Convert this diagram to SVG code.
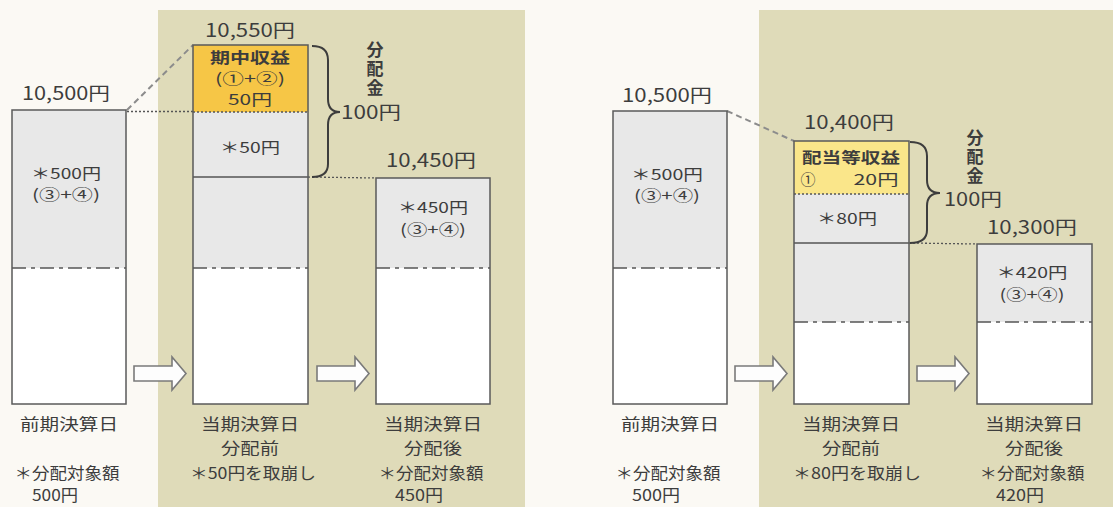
<svg xmlns="http://www.w3.org/2000/svg" width="1113" height="507" viewBox="0 0 1113 507">
<style>
.t{font-family:"Noto Sans CJK JP","Noto Sans",sans-serif;fill:#3d3d3d;text-anchor:middle}
.num{font-size:18.5px}
.bx{font-size:15px}
.lb{font-size:16px}
.b{font-weight:700}
.vt{font-family:"Noto Sans CJK JP","Noto Sans",sans-serif;fill:#3d3d3d;font-size:17px;font-weight:700;writing-mode:vertical-rl;text-anchor:start;letter-spacing:2px}
.frame{fill:none;stroke:#5a5a5a;stroke-width:1.5}
.dd{stroke:#555;stroke-width:1.5;stroke-dasharray:14 5 4 5}
.dot{stroke:#555;stroke-width:1.3;stroke-dasharray:2 2;fill:none}
.sol{stroke:#555;stroke-width:1.5}
.diag{stroke:#8c8c8c;stroke-width:2;stroke-dasharray:6 4;fill:none}
.brace{fill:none;stroke:#3d3d3d;stroke-width:2}
.arrow{fill:#fdfdfd;stroke:#7a7a7a;stroke-width:1.6;stroke-linejoin:miter}
.gray{fill:#e8e8e8}
.white{fill:#ffffff}
</style>
<rect x="0" y="0" width="1113" height="507" fill="#fbf9f4"/>
<rect x="158" y="10" width="367" height="497" fill="#dfdbb9"/>
<rect x="759" y="10" width="354" height="497" fill="#dfdbb9"/>

<g id="connectors">
<path class="diag" d="M127,110 L193,45"/>
<path class="dot" d="M127,111.5 L193,111.5"/>
<path class="dot" d="M308,177 L376,178"/>
<path class="diag" d="M727,111 L794,141"/>
<path class="dot" d="M909,243 L977,244"/>
<polygon class="arrow" points="134,366 172,366 172,357 186,373.5 172,390 172,381 134,381"/>
<polygon class="arrow" points="317,366 355,366 355,357 369,373.5 355,390 355,381 317,381"/>
<polygon class="arrow" points="735,366 773,366 773,357 787,373.5 773,390 773,381 735,381"/>
<polygon class="arrow" points="917,366 955,366 955,357 969,373.5 955,390 955,381 917,381"/>
</g>

<g id="boxA">
<rect class="gray" x="12" y="110" width="114" height="158"/>
<rect class="white" x="12" y="268" width="114" height="136"/>
<line class="dd" x1="12" y1="268" x2="126" y2="268"/>
<rect class="frame" x="12" y="110" width="114" height="294"/>
<text class="t num" x="66" y="100" textLength="88" lengthAdjust="spacingAndGlyphs">10,500円</text>
<text class="t bx"><tspan x="66" y="179" textLength="70" lengthAdjust="spacingAndGlyphs">＊500円</tspan><tspan x="66" y="200" textLength="68" lengthAdjust="spacingAndGlyphs">(③+④)</tspan></text>
<text class="t lb" x="69" y="430" textLength="98" lengthAdjust="spacingAndGlyphs">前期決算日</text>
<text class="t lb"><tspan x="67" y="479" textLength="105" lengthAdjust="spacingAndGlyphs">＊分配対象額</tspan><tspan x="55" y="501" textLength="46" lengthAdjust="spacingAndGlyphs">500円</tspan></text>
</g>

<g id="boxB">
<rect x="193" y="45" width="115" height="67" fill="#f6c646"/>
<rect class="gray" x="193" y="112" width="115" height="156"/>
<rect class="white" x="193" y="268" width="115" height="136"/>
<line class="dot" x1="193" y1="112" x2="308" y2="112"/>
<line class="sol" x1="193" y1="177" x2="308" y2="177"/>
<line class="dd" x1="193" y1="268" x2="308" y2="268"/>
<rect class="frame" x="193" y="45" width="115" height="359"/>
<text class="t num" x="250" y="37" textLength="90" lengthAdjust="spacingAndGlyphs">10,550円</text>
<text class="t bx"><tspan class="b" x="250" y="63" textLength="80" lengthAdjust="spacingAndGlyphs">期中収益</tspan><tspan x="250" y="84" textLength="70" lengthAdjust="spacingAndGlyphs">(①+②)</tspan><tspan x="250" y="105" textLength="44" lengthAdjust="spacingAndGlyphs">50円</tspan></text>
<text class="t bx" x="250" y="153" textLength="60" lengthAdjust="spacingAndGlyphs">＊50円</text>
<text class="t lb"><tspan x="250" y="430" textLength="98" lengthAdjust="spacingAndGlyphs">当期決算日</tspan><tspan x="250" y="454" textLength="58" lengthAdjust="spacingAndGlyphs">分配前</tspan><tspan x="253" y="479" textLength="126" lengthAdjust="spacingAndGlyphs">＊50円を取崩し</tspan></text>
</g>

<g id="boxC">
<rect class="gray" x="376" y="178" width="114" height="90"/>
<rect class="white" x="376" y="268" width="114" height="136"/>
<line class="dd" x1="376" y1="268" x2="490" y2="268"/>
<rect class="frame" x="376" y="178" width="114" height="226"/>
<text class="t num" x="431" y="167" textLength="90" lengthAdjust="spacingAndGlyphs">10,450円</text>
<text class="t bx"><tspan x="433" y="213" textLength="70" lengthAdjust="spacingAndGlyphs">＊450円</tspan><tspan x="433" y="235" textLength="66" lengthAdjust="spacingAndGlyphs">(③+④)</tspan></text>
<text class="t lb"><tspan x="433" y="430" textLength="98" lengthAdjust="spacingAndGlyphs">当期決算日</tspan><tspan x="433" y="454" textLength="58" lengthAdjust="spacingAndGlyphs">分配後</tspan><tspan x="431" y="479" textLength="105" lengthAdjust="spacingAndGlyphs">＊分配対象額</tspan><tspan x="419" y="501" textLength="48" lengthAdjust="spacingAndGlyphs">450円</tspan></text>
</g>

<g id="braceLeft">
<path class="brace" d="M312,46 Q328,46 328,60 L328,99 Q328,112 340,112 Q328,112 328,125 L328,164 Q328,177 312,177"/>
<text class="vt" x="375" y="41">分配金</text>
<text class="t num" x="371" y="119" textLength="60" lengthAdjust="spacingAndGlyphs">100円</text>
</g>

<g id="boxD">
<rect class="gray" x="613" y="111" width="114" height="157"/>
<rect class="white" x="613" y="268" width="114" height="136"/>
<line class="dd" x1="613" y1="268" x2="727" y2="268"/>
<rect class="frame" x="613" y="111" width="114" height="293"/>
<text class="t num" x="667" y="102" textLength="90" lengthAdjust="spacingAndGlyphs">10,500円</text>
<text class="t bx"><tspan x="667" y="180" textLength="72" lengthAdjust="spacingAndGlyphs">＊500円</tspan><tspan x="667" y="201" textLength="66" lengthAdjust="spacingAndGlyphs">(③+④)</tspan></text>
<text class="t lb" x="670" y="430" textLength="98" lengthAdjust="spacingAndGlyphs">前期決算日</text>
<text class="t lb"><tspan x="668" y="479" textLength="105" lengthAdjust="spacingAndGlyphs">＊分配対象額</tspan><tspan x="656" y="501" textLength="48" lengthAdjust="spacingAndGlyphs">500円</tspan></text>
</g>

<g id="boxE">
<rect x="794" y="141" width="115" height="53" fill="#fae68a"/>
<rect class="gray" x="794" y="194" width="115" height="128"/>
<rect class="white" x="794" y="322" width="115" height="82"/>
<line class="dot" x1="794" y1="194" x2="909" y2="194"/>
<line class="sol" x1="794" y1="243" x2="909" y2="243"/>
<line class="dd" x1="794" y1="322" x2="909" y2="322"/>
<rect class="frame" x="794" y="141" width="115" height="263"/>
<text class="t num" x="849" y="129" textLength="90" lengthAdjust="spacingAndGlyphs">10,400円</text>
<text class="t bx"><tspan class="b" x="851" y="163" textLength="98" lengthAdjust="spacingAndGlyphs">配当等収益</tspan><tspan x="808" y="185">①</tspan><tspan x="876" y="185" textLength="45" lengthAdjust="spacingAndGlyphs">20円</tspan></text>
<text class="t bx" x="847" y="224" textLength="60" lengthAdjust="spacingAndGlyphs">＊80円</text>
<text class="t lb"><tspan x="851" y="430" textLength="98" lengthAdjust="spacingAndGlyphs">当期決算日</tspan><tspan x="851" y="454" textLength="58" lengthAdjust="spacingAndGlyphs">分配前</tspan><tspan x="857" y="479" textLength="128" lengthAdjust="spacingAndGlyphs">＊80円を取崩し</tspan></text>
</g>

<g id="boxF">
<rect class="gray" x="977" y="244" width="115" height="78"/>
<rect class="white" x="977" y="322" width="115" height="82"/>
<line class="dd" x1="977" y1="322" x2="1092" y2="322"/>
<rect class="frame" x="977" y="244" width="115" height="160"/>
<text class="t num" x="1032" y="234" textLength="90" lengthAdjust="spacingAndGlyphs">10,300円</text>
<text class="t bx"><tspan x="1032" y="278" textLength="71" lengthAdjust="spacingAndGlyphs">＊420円</tspan><tspan x="1032" y="300" textLength="65" lengthAdjust="spacingAndGlyphs">(③+④)</tspan></text>
<text class="t lb"><tspan x="1034" y="430" textLength="98" lengthAdjust="spacingAndGlyphs">当期決算日</tspan><tspan x="1034" y="454" textLength="58" lengthAdjust="spacingAndGlyphs">分配後</tspan><tspan x="1032" y="479" textLength="105" lengthAdjust="spacingAndGlyphs">＊分配対象額</tspan><tspan x="1020" y="501" textLength="48" lengthAdjust="spacingAndGlyphs">420円</tspan></text>
</g>

<g id="braceRight">
<path class="brace" d="M910,142 Q927,142 927,156 L927,180 Q927,193 940,193 Q927,193 927,206 L927,230 Q927,243 910,243"/>
<text class="vt" x="975" y="129">分配金</text>
<text class="t num" x="973" y="206" textLength="58" lengthAdjust="spacingAndGlyphs">100円</text>
</g>
</svg>
